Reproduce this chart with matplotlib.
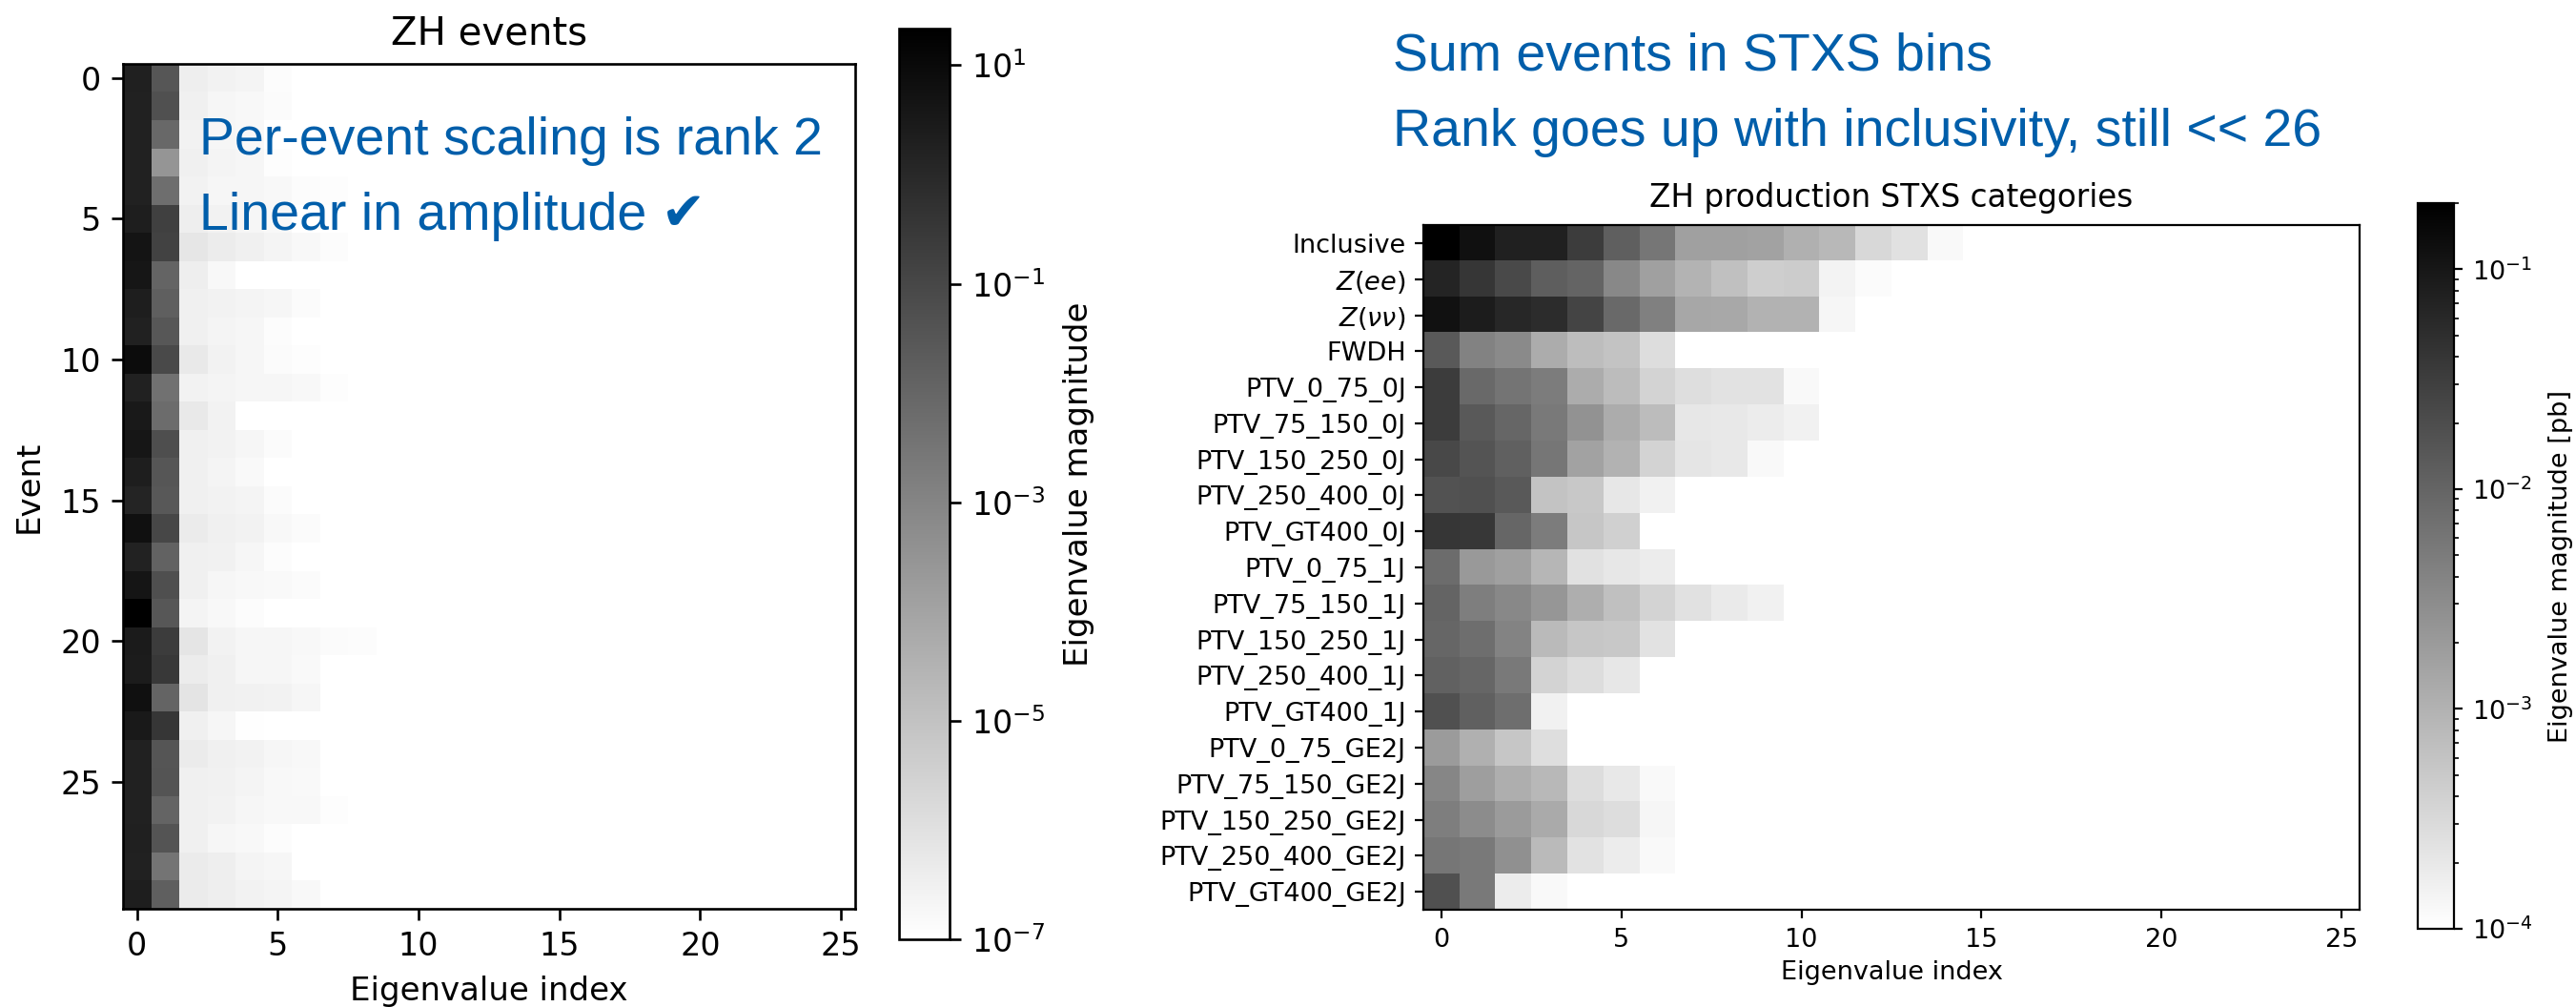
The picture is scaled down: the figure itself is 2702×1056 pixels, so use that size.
import numpy as np
import matplotlib
matplotlib.use("Agg")
import matplotlib.pyplot as plt
from matplotlib.colors import LogNorm
from matplotlib.ticker import FixedLocator, NullLocator

N_EIG = 26
BLUE = '#005eaa'

# ZH events: leading eigenvalues per event (everything after is below 1e-7)
event_eigs = [
    [1.9, 0.032, 3.6e-7, 2.7e-7, 2.3e-7, 1.3e-7],
    [1.6, 0.051, 3.3e-7, 2.1e-7, 1.7e-7, 1.45e-7],
    [1.6, 0.0085, 2.7e-7, 2.0e-7, 1.7e-7],
    [1.6, 2.9e-4, 3.1e-7, 2.3e-7, 2.0e-7, 1.2e-7],
    [1.6, 0.0054, 2.7e-7, 2.1e-7, 2.0e-7, 1.7e-7, 1.3e-7, 1.2e-7],
    [2.2, 0.17, 3.6e-7, 2.7e-7, 2.1e-7, 1.7e-7],
    [4.6, 0.135, 6.6e-7, 4.2e-7, 3.1e-7, 2.3e-7, 1.7e-7, 1.3e-7],
    [4.0, 0.0114, 3.6e-7, 1.7e-7],
    [2.2, 0.017, 3.1e-7, 2.7e-7, 2.3e-7, 2.0e-7, 1.45e-7],
    [1.6, 0.030, 3.3e-7, 2.3e-7, 2.0e-7, 1.3e-7],
    [8.5, 0.081, 5.6e-7, 2.7e-7, 2.0e-7, 1.45e-7, 1.2e-7],
    [1.6, 0.0043, 2.7e-7, 2.3e-7, 2.1e-7, 2.0e-7, 1.7e-7, 1.2e-7],
    [2.9, 0.0063, 5.6e-7, 2.7e-7],
    [4.0, 0.060, 3.1e-7, 2.7e-7, 2.1e-7, 1.45e-7],
    [2.2, 0.032, 3.1e-7, 2.3e-7, 1.6e-7],
    [1.4, 0.028, 3.3e-7, 2.7e-7, 2.3e-7, 1.45e-7],
    [6.0, 0.10, 4.5e-7, 3.3e-7, 2.7e-7, 1.7e-7, 1.45e-7],
    [1.5, 0.012, 3.3e-7, 2.9e-7, 2.0e-7, 1.3e-7],
    [4.3, 0.055, 3.1e-7, 2.0e-7, 1.7e-7, 1.6e-7, 1.45e-7],
    [21.5, 0.030, 2.3e-7, 1.7e-7, 1.3e-7],
    [2.7, 0.23, 7.1e-7, 2.7e-7, 2.1e-7, 2.0e-7, 1.7e-7, 1.45e-7, 1.3e-7],
    [2.6, 0.29, 4.2e-7, 3.1e-7, 2.1e-7, 2.0e-7, 1.6e-7],
    [6.0, 0.0114, 7.6e-7, 3.3e-7, 2.9e-7, 2.7e-7, 2.0e-7],
    [2.9, 0.36, 3.3e-7, 2.0e-7, 1.15e-7],
    [1.6, 0.035, 4.5e-7, 3.3e-7, 2.7e-7, 2.0e-7, 1.7e-7],
    [1.6, 0.037, 3.3e-7, 2.9e-7, 2.3e-7, 1.7e-7, 1.6e-7],
    [1.6, 0.0114, 3.3e-7, 2.7e-7, 2.1e-7, 1.8e-7, 1.7e-7, 1.2e-7],
    [1.9, 0.038, 3.3e-7, 2.0e-7, 1.7e-7, 1.3e-7],
    [1.6, 0.0035, 4.5e-7, 3.6e-7, 2.3e-7, 2.0e-7],
    [2.2, 0.017, 4.5e-7, 3.6e-7, 2.7e-7, 2.3e-7, 1.7e-7],
]

stxs_labels = [
    'Inclusive', r'$Z(ee)$', r'$Z(\nu\nu)$', 'FWDH',
    'PTV_0_75_0J', 'PTV_75_150_0J', 'PTV_150_250_0J', 'PTV_250_400_0J', 'PTV_GT400_0J',
    'PTV_0_75_1J', 'PTV_75_150_1J', 'PTV_150_250_1J', 'PTV_250_400_1J', 'PTV_GT400_1J',
    'PTV_0_75_GE2J', 'PTV_75_150_GE2J', 'PTV_150_250_GE2J', 'PTV_250_400_GE2J', 'PTV_GT400_GE2J',
]

# STXS categories: leading eigenvalues in pb (the rest are below 1e-4)
stxs_eigs = [
    [0.2, 0.12, 0.077, 0.073, 0.0334, 0.0118, 0.0059, 0.0017, 0.0017, 0.0016, 0.00105, 0.00083, 0.00032, 0.00025, 0.000123],
    [0.068, 0.040, 0.0227, 0.0121, 0.0101, 0.0035, 0.0017, 0.00094, 0.00065, 0.00043, 0.00046, 0.000147, 0.000116],
    [0.117, 0.087, 0.061, 0.054, 0.0264, 0.0085, 0.0044, 0.0014, 0.00134, 0.00099, 0.00099, 0.000131],
    [0.0137, 0.0041, 0.0033, 0.00119, 0.00071, 0.00058, 0.000275],
    [0.0334, 0.0085, 0.0063, 0.0050, 0.00119, 0.00074, 0.00038, 0.000267, 0.00024, 0.00024, 0.000123],
    [0.0334, 0.0137, 0.0096, 0.0053, 0.0026, 0.00119, 0.00074, 0.00021, 0.0002, 0.000176, 0.000156],
    [0.0234, 0.0164, 0.0114, 0.0059, 0.0016, 0.00099, 0.00038, 0.00022, 0.0002, 0.000123],
    [0.0169, 0.0184, 0.0137, 0.00058, 0.00052, 0.00021, 0.000156],
    [0.040, 0.038, 0.0096, 0.0050, 0.00055, 0.00041],
    [0.0080, 0.0021, 0.0017, 0.00088, 0.00025, 0.00021, 0.000176],
    [0.0101, 0.0047, 0.0035, 0.0023, 0.00112, 0.00065, 0.00038, 0.00025, 0.000187, 0.000156],
    [0.0096, 0.0075, 0.0039, 0.00078, 0.00055, 0.00052, 0.00024],
    [0.0108, 0.0096, 0.0053, 0.00038, 0.00028, 0.00021],
    [0.0184, 0.0114, 0.0075, 0.000156],
    [0.0020, 0.00105, 0.00055, 0.000267],
    [0.0037, 0.0018, 0.00112, 0.00083, 0.00028, 0.0002, 0.000123],
    [0.0047, 0.0031, 0.0020, 0.00126, 0.00032, 0.00028, 0.000131],
    [0.0059, 0.0053, 0.0027, 0.00078, 0.00024, 0.000176, 0.000123],
    [0.0184, 0.0053, 0.000176, 0.000123],
]


def to_matrix(rows, n=N_EIG):
    # unlisted eigenvalues are left empty (drawn as background)
    m = np.full((len(rows), n), np.nan)
    for i, r in enumerate(rows):
        m[i, :len(r)] = r
    return m


fig = plt.figure(figsize=(27.02, 10.56), dpi=100)

# ---- left: ZH events ----
ax1 = fig.add_axes([0.0477, 0.0975, 0.2842, 0.839])
cax1 = fig.add_axes([0.349, 0.0672, 0.0196, 0.904])
ev = to_matrix(event_eigs)
im1 = ax1.imshow(ev, cmap='gray_r', norm=LogNorm(vmin=1e-7, vmax=np.nanmax(ev)),
                 aspect='auto', interpolation='nearest')
ax1.set_title('ZH events', fontsize=29, pad=15)
ax1.set_xlabel('Eigenvalue index', fontsize=24.5, labelpad=10)
ax1.set_ylabel('Event', fontsize=24.5, labelpad=12)
ax1.set_xticks(range(0, 26, 5))
ax1.set_yticks(range(0, 30, 5))
ax1.tick_params(labelsize=24, length=8.4, width=1.9, pad=8)
for s in ax1.spines.values():
    s.set_linewidth(1.9)
cb1 = fig.colorbar(im1, cax=cax1)
cb1.ax.yaxis.set_major_locator(FixedLocator([1e1, 1e-1, 1e-3, 1e-5, 1e-7]))
cb1.ax.yaxis.set_minor_locator(NullLocator())
cb1.ax.tick_params(labelsize=24, length=8.4, width=1.9, pad=8)
cb1.outline.set_linewidth(1.9)
cb1.set_label('Eigenvalue magnitude', fontsize=24.5, labelpad=14)

# ---- right: STXS categories ----
ax2 = fig.add_axes([0.5526, 0.0965, 0.3634, 0.680])
cax2 = fig.add_axes([0.9386, 0.0777, 0.0141, 0.7206])
st = to_matrix(stxs_eigs)
im2 = ax2.imshow(st, cmap='gray_r', norm=LogNorm(vmin=1e-4, vmax=np.nanmax(st)),
                 aspect='auto', interpolation='nearest')
ax2.set_title('ZH production STXS categories', fontsize=23.5, pad=13.5)
ax2.set_xlabel('Eigenvalue index', fontsize=19.5, labelpad=6)
ax2.set_xticks(range(0, 26, 5))
ax2.set_yticks(range(len(stxs_labels)))
ax2.set_yticklabels(stxs_labels)
ax2.tick_params(labelsize=19.5, length=6.8, width=1.6, pad=6.5)
for s in ax2.spines.values():
    s.set_linewidth(1.6)
cb2 = fig.colorbar(im2, cax=cax2)
cb2.ax.tick_params(which='major', labelsize=19.5, length=6.8, width=1.6, pad=6.5)
cb2.ax.tick_params(which='minor', length=3.9, width=1.2)
cb2.outline.set_linewidth(1.6)
cb2.set_label('Eigenvalue magnitude [pb]', fontsize=19.5, labelpad=12)

# ---- slide annotations ----
txt = dict(color=BLUE, fontsize=40, family=['Liberation Sans', 'DejaVu Sans'], va='baseline')
fig.text(209 / 2702, 1 - 162 / 1056, 'Per-event scaling is rank 2', **txt)
fig.text(209 / 2702, 1 - 241 / 1056, 'Linear in amplitude \u2714', **txt)
fig.text(1461 / 2702, 1 - 74 / 1056, 'Sum events in STXS bins', **txt)
fig.text(1461 / 2702, 1 - 153 / 1056, 'Rank goes up with inclusivity, still << 26', **txt)

fig.savefig('out.png', dpi=100)
